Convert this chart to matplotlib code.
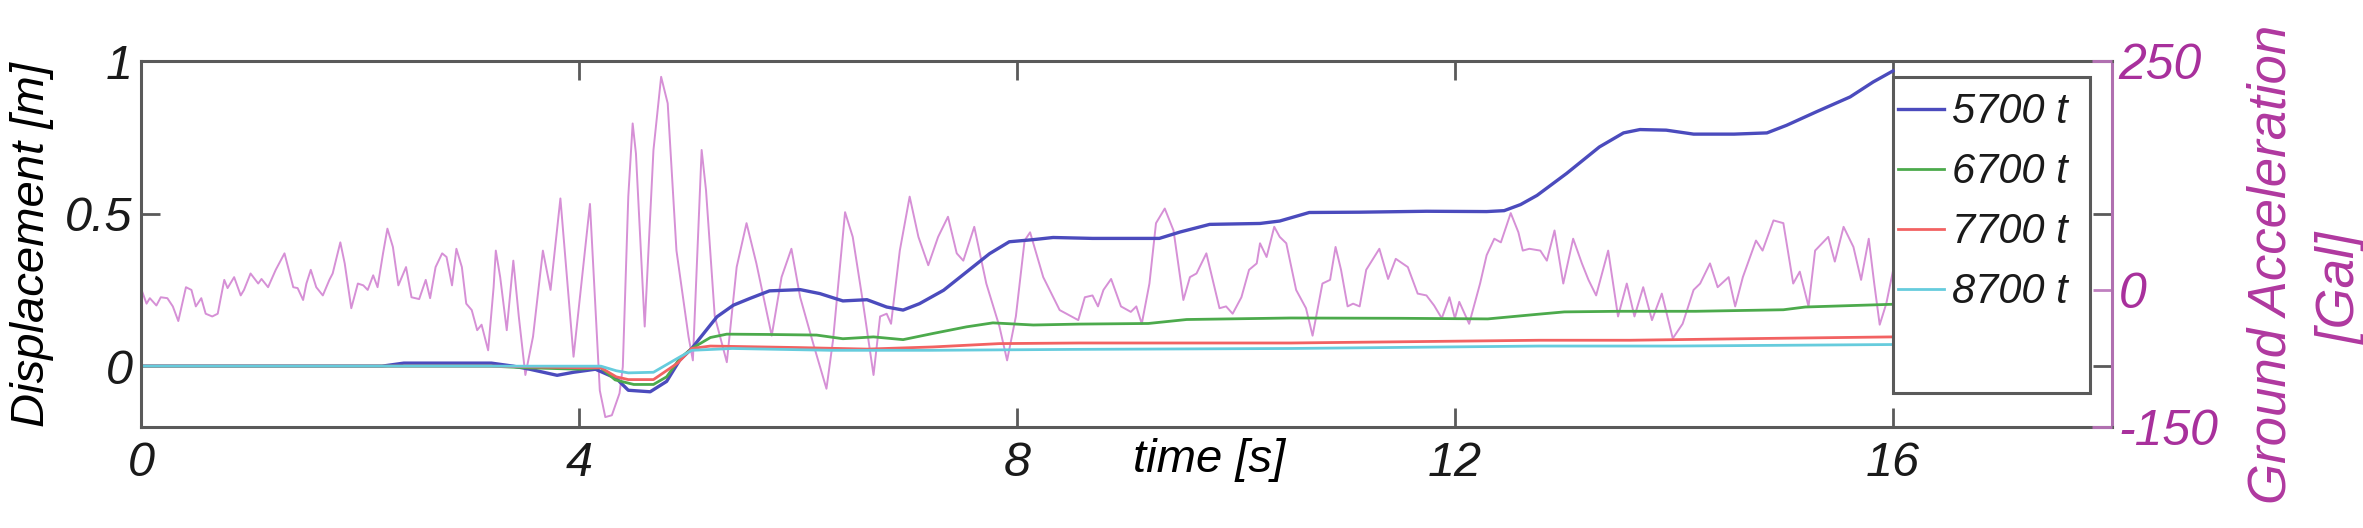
import matplotlib
matplotlib.use("Agg")
import matplotlib.pyplot as plt
from matplotlib.patches import Rectangle

# displacement time histories [m]
t_5700 = [0.0, 2.2, 2.4, 3.2, 3.4, 3.55, 3.8, 3.95, 4.15, 4.34, 4.45, 4.65, 4.80, 4.92,
          5.03, 5.10, 5.26, 5.41, 5.56, 5.74, 6.02, 6.20, 6.41, 6.63, 6.81, 6.96, 7.11,
          7.33, 7.54, 7.75, 7.93, 8.15, 8.33, 8.69, 9.30, 9.49, 9.76, 10.22, 10.40, 10.67,
          11.13, 11.74, 12.29, 12.45, 12.60, 12.75, 13.02, 13.32, 13.54, 13.69, 13.93,
          14.18, 14.55, 14.85, 15.03, 15.30, 15.61, 15.82, 16.0]
d_5700 = [0.0, 0.0, 0.01, 0.01, 0.0, -0.01, -0.03, -0.02, -0.01, -0.04, -0.079, -0.084,
          -0.05, 0.02, 0.058, 0.09, 0.162, 0.20, 0.222, 0.247, 0.251, 0.238, 0.214, 0.218,
          0.194, 0.184, 0.205, 0.249, 0.309, 0.369, 0.408, 0.415, 0.422, 0.419, 0.419,
          0.44, 0.465, 0.468, 0.476, 0.504, 0.505, 0.508, 0.507, 0.51, 0.53, 0.56, 0.632,
          0.719, 0.765, 0.776, 0.774, 0.761, 0.761, 0.765, 0.79, 0.834, 0.883, 0.932, 0.968]

t_6700 = [0.0, 3.2, 3.5, 4.0, 4.2, 4.33, 4.5, 4.68, 4.80, 4.92, 5.03, 5.20, 5.35, 5.72,
          6.17, 6.41, 6.69, 6.96, 7.23, 7.54, 7.78, 8.15, 8.57, 9.2, 9.55, 10.5, 11.5,
          12.3, 12.75, 13.0, 13.5, 14.2, 15.0, 15.2, 16.0]
d_6700 = [0.0, 0.0, -0.005, -0.01, -0.005, -0.045, -0.06, -0.06, -0.035, 0.025, 0.058,
          0.094, 0.105, 0.104, 0.102, 0.09, 0.096, 0.087, 0.107, 0.129, 0.142, 0.135,
          0.138, 0.140, 0.153, 0.158, 0.157, 0.155, 0.17, 0.178, 0.18, 0.18, 0.185, 0.194,
          0.203]

t_7700 = [0.0, 3.2, 4.0, 4.2, 4.34, 4.45, 4.68, 4.9, 5.03, 5.2, 6.0, 6.63, 7.23, 7.84,
          8.57, 10.5, 12.77, 13.6, 14.85, 16.0]
d_7700 = [0.0, 0.0, -0.005, -0.005, -0.035, -0.044, -0.044, 0.01, 0.058, 0.066, 0.061,
          0.056, 0.063, 0.074, 0.076, 0.076, 0.085, 0.085, 0.091, 0.096]

t_8700 = [0.0, 4.2, 4.34, 4.45, 4.68, 4.92, 5.03, 5.4, 6.3, 7.2, 8.5, 10.5, 12.77, 14.0,
          16.0]
d_8700 = [0.0, 0.0, -0.015, -0.022, -0.02, 0.03, 0.052, 0.058, 0.052, 0.052, 0.055,
          0.058, 0.066, 0.066, 0.071]

# ground acceleration [Gal], turning points
acc_t = [0.00, 0.05, 0.08, 0.14, 0.18, 0.24, 0.29, 0.34, 0.41, 0.46, 0.50, 0.55, 0.59,
         0.65, 0.70, 0.76, 0.79, 0.85, 0.91, 0.94, 1.00, 1.07, 1.10, 1.16, 1.23, 1.31,
         1.39, 1.43, 1.48, 1.51, 1.55, 1.60, 1.66, 1.72, 1.75, 1.82, 1.86, 1.92, 1.98,
         2.03, 2.07, 2.12, 2.16, 2.21, 2.25, 2.30, 2.35, 2.42, 2.47, 2.54, 2.60, 2.64,
         2.69, 2.75, 2.79, 2.84, 2.88, 2.93, 2.97, 3.02, 3.07, 3.11, 3.17, 3.22, 3.24,
         3.28, 3.34, 3.40, 3.45, 3.51, 3.58, 3.67, 3.74, 3.83, 3.95, 4.10, 4.19, 4.24,
         4.30, 4.37, 4.40, 4.45, 4.49, 4.52, 4.60, 4.68, 4.75, 4.81, 4.89, 5.00, 5.04,
         5.12, 5.16, 5.24, 5.35, 5.44, 5.53, 5.62, 5.76, 5.85, 5.94, 6.02, 6.14, 6.26,
         6.32, 6.43, 6.50, 6.59, 6.69, 6.75, 6.81, 6.85, 6.93, 7.02, 7.10, 7.19, 7.28,
         7.37, 7.45, 7.51, 7.61, 7.72, 7.84, 7.91, 7.99, 8.07, 8.12, 8.24, 8.39, 8.56,
         8.62, 8.69, 8.74, 8.79, 8.86, 8.95, 9.04, 9.09, 9.14, 9.21, 9.27, 9.35, 9.43,
         9.52, 9.58, 9.64, 9.73, 9.81, 9.85, 9.91, 9.97, 10.05, 10.12, 10.19, 10.22,
         10.28, 10.35, 10.40, 10.46, 10.55, 10.64, 10.70, 10.79, 10.86, 10.91, 10.96,
         11.02, 11.07, 11.13, 11.19, 11.31, 11.39, 11.46, 11.57, 11.66, 11.74, 11.81,
         11.88, 11.95, 12.00, 12.04, 12.13, 12.23, 12.29, 12.36, 12.42, 12.51, 12.58,
         12.62, 12.68, 12.78, 12.84, 12.91, 12.99, 13.08, 13.16, 13.22, 13.29, 13.40,
         13.49, 13.57, 13.64, 13.72, 13.80, 13.89, 13.99, 14.08, 14.18, 14.24, 14.33,
         14.40, 14.50, 14.56, 14.63, 14.75, 14.81, 14.91, 15.00, 15.09, 15.15, 15.23,
         15.29, 15.41, 15.47, 15.55, 15.64, 15.71, 15.78, 15.83, 15.88, 15.94, 16.00]
acc_g = [1.5, -15, -9, -17, -8, -9, -18, -34, 3, 0, -18, -9, -26,
         -29, -26, 11, 2, 14, -6, 0, 18, 7, 12, 3, 22, 40,
         3, 2, -11, 7, 22, 3, -6, 11, 18, 52, 29, -20, 7,
         5, 0, 16, 3, 40, 67, 47, 5, 25, -8, -10, 11, -9,
         25, 40, 36, 5, 45, 25, -15, -22, -44, -38, -66, 3, 43,
         14, -44, 32, -29, -93, -51, 43, 0, 100, -73, 94, -110, -139,
         -137, -113, -84, 102, 182, 149, -40, 153, 233, 204, 43, -51, -77,
         153, 109, -29, -79, 25, 73, 29, -50, 14, 45, -8, -59, -108,
         -55, 85, 58, -11, -93, -29, -26, -37, 43, 102, 58, 27, 58,
         80, 40, 32, 69, 7, -40, -77, -29, 54, 63, 14, -22, -33,
         -8, -6, -18, 0, 12, -18, -24, -18, -37, 7, 73, 89, 65,
         -11, 14, 18, 40, 0, -20, -18, -26, -8, 22, 29, 51,
         36, 69, 58, 51, 0, -20, -50, 7, 11, 47, 22,
         -18, -15, -18, 22, 45, 12, 34, 25, -4, -6, -17,
         -31, -8, -31, -13, -37, 7, 38, 56, 52, 84, 63,
         43, 45, 43, 32, 65, 7, 56, 29, 11, -6, 43,
         -29, 7, -29, 3, -33, -4, -53, -37, 0, 7, 29,
         3, 14, -18, 14, 54, 43, 76, 73, 7, 20, -18,
         43, 58, 31, 69, 47, 11, 56, 7, -38, -15, 20]

labels = ['5700 t', '6700 t', '7700 t', '8700 t']
colors = ['#4b4bbd', '#4caa4c', '#f26262', '#66ccdd']
widths = [2.4, 2.0, 2.0, 2.0]

plt.rcParams['font.family'] = ['Liberation Sans', 'DejaVu Sans']
plt.rcParams['font.style'] = 'italic'

mag = '#a8309c'
frame = '#5a5a5a'

fig = plt.figure(figsize=(23.63, 5.28), dpi=100)
ax = fig.add_axes([0.0597, 0.191, 0.834, 0.693])
ax2 = ax.twinx()
ax.set_zorder(ax2.get_zorder() + 1)
ax.patch.set_visible(False)

# acceleration on the right axis, behind the displacement curves
ax2.plot(acc_t, acc_g, color='#d690d6', lw=1.4)
ax2.set_ylim(-150, 250)
ax2.set_yticks([-150, 0, 250])
ax2.set_yticklabels(['-150', '0', '250'])
ax2.tick_params(axis='y', direction='in', length=13.5, width=2, color='#c080c0',
                labelcolor=mag, labelsize=36, pad=5)
for s in ax2.spines.values():
    s.set_visible(False)

series = [(t_5700, d_5700), (t_6700, d_6700), (t_7700, d_7700), (t_8700, d_8700)]
for (tt, dd), lab, c, w in zip(series, labels, colors, widths):
    ax.plot(tt, dd, color=c, lw=w, label=lab)

ax.set_xlim(0, 18)
ax.set_ylim(-0.2, 1)
ax.set_xticks([0, 4, 8, 12, 16])
ax.set_xticklabels(['0', '4', '8', '12', '16'])
ax.set_yticks([0, 0.5, 1])
ax.set_yticklabels(['0', '0.5', '1'])
ax.tick_params(axis='both', direction='in', length=13.5, width=2, color=frame,
               labelsize=35, labelcolor='#1a1a1a')
ax.tick_params(axis='x', top=True, pad=10)
ax.tick_params(axis='y', right=True, pad=6)

for k in ['left', 'top', 'bottom']:
    ax.spines[k].set_color(frame)
    ax.spines[k].set_linewidth(2.2)
ax.spines['right'].set_color('#b070b0')
ax.spines['right'].set_linewidth(2.2)
# magenta corners of the right axis box
for yy in (0, 1):
    ax.plot([0.99, 1.0], [yy, yy], transform=ax.transAxes, color='#b070b0', lw=2.2,
            clip_on=False, zorder=6, solid_capstyle='butt')

ax.set_xlabel('time [s]', fontsize=34, va='center')
ax.xaxis.set_label_coords(0.542, -0.09)
ax.set_ylabel('Displacement [m]', fontsize=34, va='center')
ax.yaxis.set_label_coords(-0.0553, 0.5)

# legend box (MATLAB style, taller than its entries)
ax.add_patch(Rectangle((0.889, 0.093), 0.1, 0.863, transform=ax.transAxes,
                       facecolor='white', edgecolor=frame, lw=2.2, zorder=4,
                       clip_on=False))
leg = ax.legend(loc='upper left', bbox_to_anchor=(0.8915, 0.915), frameon=False,
                fontsize=30, handlelength=1.1, handletextpad=0.2, labelspacing=0.48,
                borderaxespad=0, borderpad=0)
for txt in leg.get_texts():
    txt.set_color('#1a1a1a')

fig.text(2271 / 2363, 0.5, 'Ground Acceleration', rotation=90, ha='center',
         va='center', fontsize=38, color='#b0389f')
fig.text(2341 / 2363, 1 - 288 / 528, '[Gal]', rotation=90, ha='center', va='center',
         fontsize=38, color='#b0389f')

fig.savefig('out.png', dpi=100, facecolor='white')
